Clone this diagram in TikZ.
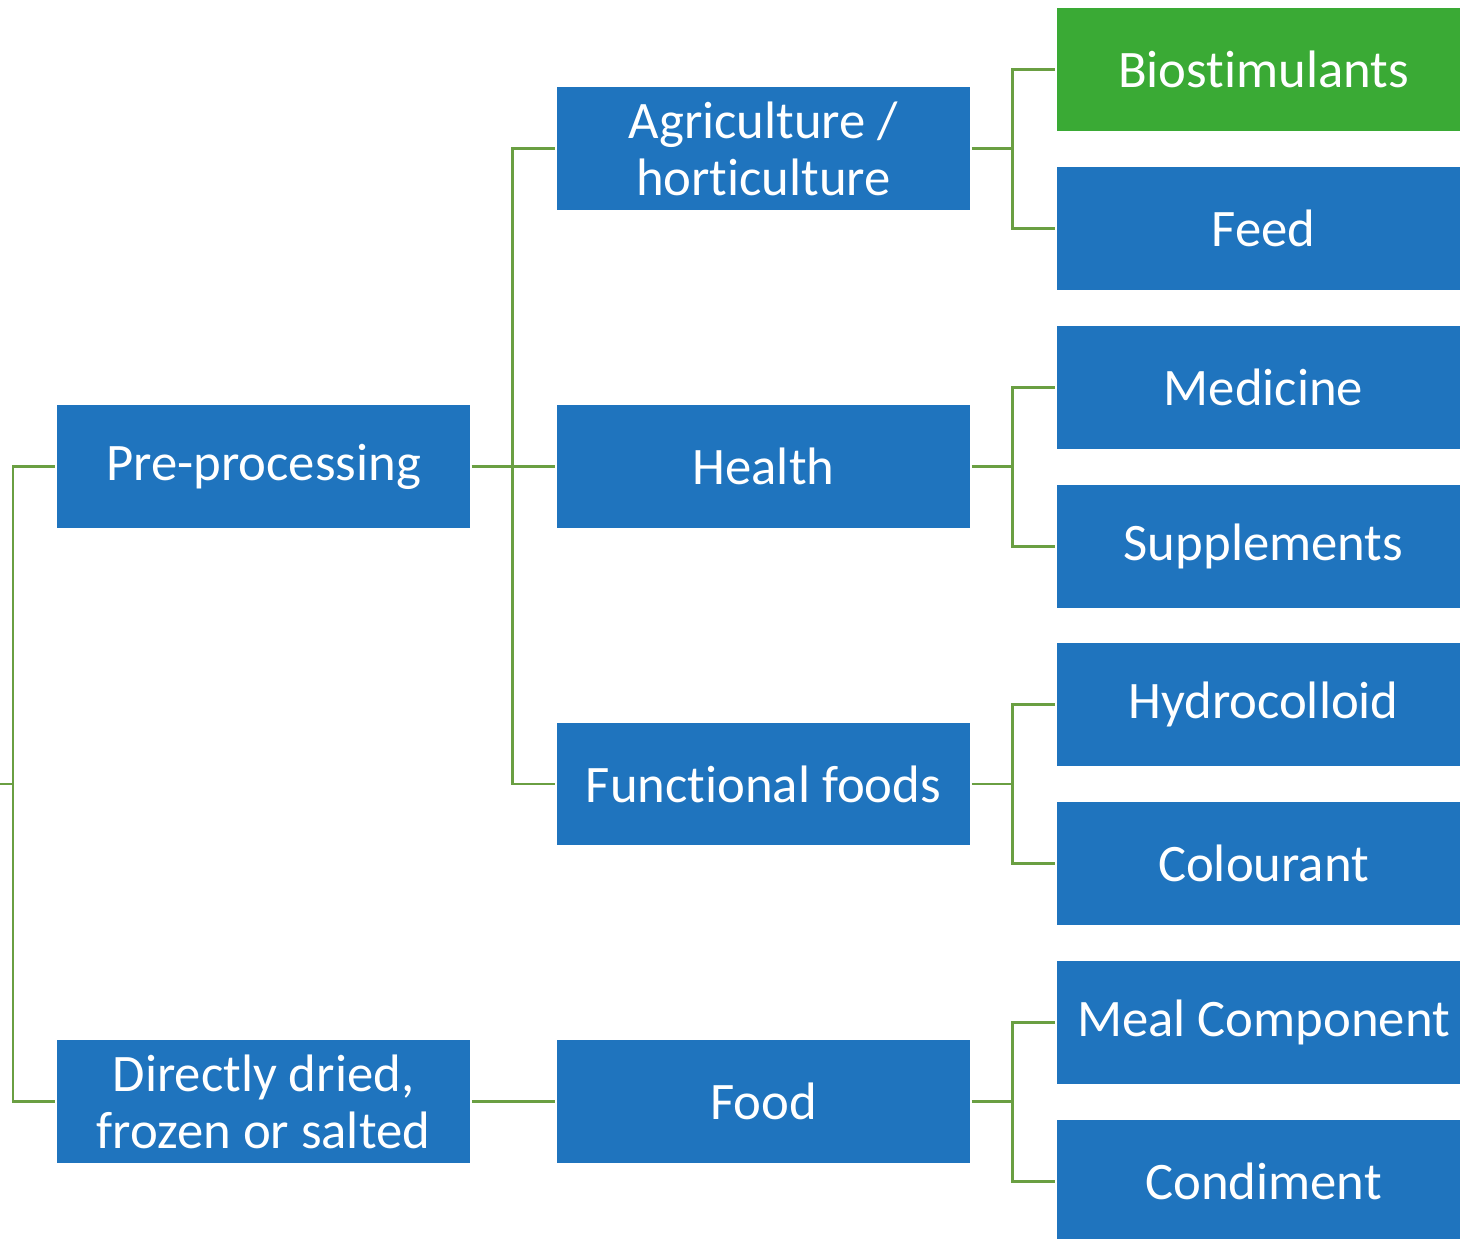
\documentclass[tikz,border=0pt]{standalone}
\usepackage{fontspec}
\setmainfont{Carlito}[Ligatures=NoCommon]
\usepackage{tikz}
\usetikzlibrary{positioning}
\definecolor{boxblue}{HTML}{1F74BE}
\definecolor{boxgreen}{HTML}{3AAA35}
\definecolor{linkgreen}{HTML}{6A9F42}
\tikzset{
    %Define style for boxes
    punktrect/.style={
           rectangle,
           fill=boxblue,
           text=white,
           inner sep=0pt, outer sep=0pt,
           minimum width=8.26cm,
           minimum height=2.46cm,
           align=center,
           font=\fontsize{30}{32.5}\selectfont},
    punktgreen/.style={
           punktrect,
           fill=boxgreen},
    % Define link style
    pil/.style={
           draw=linkgreen,
           line width=1.7pt,
           shorten <=1.1pt,
           shorten >=1.1pt}
}
\begin{document}
\begin{tikzpicture}[x=0.02cm,y=-0.02cm]
\useasboundingbox (0,0) rectangle (1460,1239);
\clip (0,0) rectangle (1460,1239);

 %nodes
\node[punktrect] (pre) at (263.5,466.5) {Pre-processing};
\node[punktrect] (dir) at (263.5,1101.5) {Directly dried,\\frozen or salted};

\node[punktrect] (agri) at (763.5,148.5) {Agriculture /\\horticulture};
\node[punktrect] (health) at (763.5,466.5) {Health};
\node[punktrect] (func) at (763.5,784) {Functional foods};
\node[punktrect] (food) at (763.5,1101.5) {Food};

\node[punktgreen] (bio) at (1263.5,69.5) {Biostimulants};
\node[punktrect] (feed) at (1263.5,228.5) {Feed};
\node[punktrect] (med) at (1263.5,387.5) {Medicine};
\node[punktrect] (supp) at (1263.5,546.5) {Supplements};
\node[punktrect] (hydro) at (1263.5,704.5) {Hydrocolloid};
\node[punktrect] (colour) at (1263.5,863.5) {Colourant};
\node[punktrect] (meal) at (1263.5,1022.5) {Meal Component};
\node[punktrect] (cond) at (1263.5,1181.5) {Condiment};

\coordinate (root) at (0,784);

 %links
\draw[pil, shorten <=0pt] (root) -- ++(13,0) |- (pre.west);
\draw[pil, shorten <=0pt] (root) -- ++(13,0) |- (dir.west);

\foreach \c in {agri,health,func}
    \draw[pil] (pre.east) -- ++(43,0) |- (\c.west);
\draw[pil] (dir.east) -- (food.west);

\foreach \p/\a/\b in {agri/bio/feed, health/med/supp, func/hydro/colour, food/meal/cond}{
    \draw[pil] (\p.east) -- ++(43,0) |- (\a.west);
    \draw[pil] (\p.east) -- ++(43,0) |- (\b.west);
}

\end{tikzpicture}
\end{document}
